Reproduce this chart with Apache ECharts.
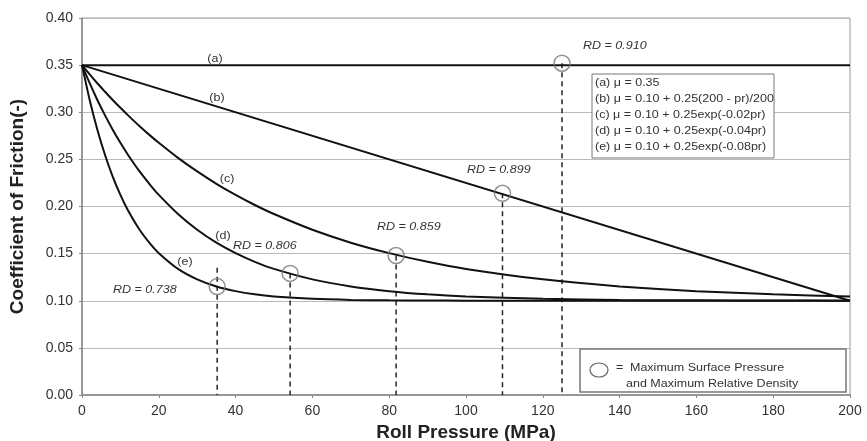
<!DOCTYPE html>
<html><head><meta charset="utf-8">
<script src="https://cdn.jsdelivr.net/npm/echarts@6/dist/echarts.min.js"></script>
<style>html,body{margin:0;padding:0;background:#fff}#c{width:867px;height:441px}</style>
</head><body><div id="c"></div>
<script>
// ---- data ----
var xA = [0, 200];
var muA = [0.35, 0.35];
var xB = [0, 200];
var muB = [0.35, 0.10];
var xCurve = [0,2,4,6,8,10,12,15,18,20,25,30,35,40,45,50,60,70,80,90,100,120,140,160,180,200];
var muC = [0.350,0.3402,0.3308,0.3217,0.3130,0.3047,0.2967,0.2852,0.2744,0.2676,0.2516,0.2372,0.2241,0.2123,0.2016,0.1920,0.1753,0.1616,0.1505,0.1413,0.1338,0.1227,0.1152,0.1102,0.1068,0.1046];
var muD = [0.350,0.3308,0.3130,0.2967,0.2815,0.2676,0.2547,0.2372,0.2217,0.2123,0.1920,0.1753,0.1616,0.1505,0.1413,0.1338,0.1227,0.1152,0.1102,0.1068,0.1046,0.1021,0.1009,0.1004,0.1002,0.1001];
var muE = [0.350,0.3130,0.2815,0.2547,0.2318,0.2123,0.1957,0.1753,0.1592,0.1505,0.1338,0.1227,0.1152,0.1102,0.1068,0.1046,0.1021,0.1009,0.1004,0.1002,0.1001,0.1000,0.1000,0.1000,0.1000,0.1000];
// maximum surface pressure points (a..e)
var maxP = [125, 109.5, 81.8, 54.2, 35.2];
var maxMu = [0.352, 0.214, 0.148, 0.129, 0.115];
var rdLabels = ['RD = 0.910', 'RD = 0.899', 'RD = 0.859', 'RD = 0.806', 'RD = 0.738'];
var curveLabels = ['(a)', '(b)', '(c)', '(d)', '(e)'];
var formulas = ['(a) \u03bc = 0.35', '(b) \u03bc = 0.10 + 0.25(200 - pr)/200', '(c) \u03bc = 0.10 + 0.25exp(-0.02pr)', '(d) \u03bc = 0.10 + 0.25exp(-0.04pr)', '(e) \u03bc = 0.10 + 0.25exp(-0.08pr)'];
var xTicks = [0,20,40,60,80,100,120,140,160,180,200];
var yTicks = [0,0.05,0.10,0.15,0.20,0.25,0.30,0.35,0.40];

function zip(xs, ys){ return xs.map(function(x,i){ return [x, ys[i]]; }); }

var FONT = 'Liberation Sans';
var SX = 1.25; // horizontal stretch of annotation text
var series = [];
function lineSeries(xs, ys, w){
  return {type:'line', data: zip(xs, ys), symbol:'none', smooth:0.2, z:3,
    lineStyle:{color:'#111', width:w}};
}
series.push(lineSeries(xA, muA, 2));
series.push(lineSeries(xB, muB, 2));
series.push(lineSeries(xCurve, muC, 2));
series.push(lineSeries(xCurve, muD, 2));
series.push(lineSeries(xCurve, muE, 2));
// dashed drop lines
maxP.forEach(function(p, i){
  var top = (i === 4) ? 0.135 : maxMu[i];
  series.push({type:'line', data:[[p, top],[p, 0]], symbol:'none', z:2,
    lineStyle:{color:'#222', width:1.5, type:[5,4]}});
});
series.push({type:'scatter', data: zip(maxP, maxMu), symbol:'circle', symbolSize:16, z:5,
  itemStyle:{color:'rgba(255,255,255,0)', borderColor:'#777', borderWidth:1.5}});

var graphics = [];
function txt(x, y, t, italic, align, z){
  return {type:'text', x:x, y:y, scaleX:SX, z:z||6,
    style:{text:t, fontFamily:FONT, fontSize:10, fontStyle: italic ? 'italic' : 'normal',
      fill:'#333', align:align||'left', verticalAlign:'middle'}};
}
// curve labels
var cl = [[215,59],[217,98],[227,179],[223,236],[185,262]];
curveLabels.forEach(function(t,i){ graphics.push(txt(cl[i][0], cl[i][1], t, false, 'center')); });
var rl = [[583,46],[467,170],[377,227],[233,246],[113,290]];
rdLabels.forEach(function(t,i){ graphics.push(txt(rl[i][0], rl[i][1], t, true, 'left')); });
// formula box
graphics.push({type:'rect', shape:{x:592, y:74, width:182, height:84}, style:{fill:'#fff', stroke:'#777', lineWidth:1}, z:10});
formulas.forEach(function(t,i){ graphics.push(txt(595, 83+i*16, t, false, 'left', 11)); });
// marker legend box
graphics.push({type:'rect', shape:{x:580, y:349, width:266, height:43}, style:{fill:'#fff', stroke:'#777', lineWidth:1.5}, z:10});
graphics.push({type:'ellipse', shape:{cx:599, cy:370, rx:9, ry:7}, style:{fill:'#fff', stroke:'#666', lineWidth:1.2}, z:11});
graphics.push(txt(616, 368, '=', false, 'left', 11));
graphics.push(txt(630, 368, 'Maximum Surface Pressure', false, 'left', 11));
graphics.push(txt(626, 384, 'and Maximum Relative Density', false, 'left', 11));

var chart = echarts.init(document.getElementById('c'));
chart.setOption({
  animation:false,
  backgroundColor:'#fff',
  grid:{left:82, right:17, top:18, bottom:46, show:true, borderColor:'#999', borderWidth:1, outerBoundsMode:'none', containLabel:false},
  xAxis:{type:'value', min:xTicks[0], max:xTicks[xTicks.length-1], interval:20,
    name:'Roll Pressure (MPa)', nameLocation:'middle', nameGap:25,
    nameTextStyle:{fontFamily:FONT, fontWeight:'bold', fontSize:19, color:'#222'},
    axisLine:{lineStyle:{color:'#888', width:1.5}},
    axisTick:{show:true, length:3, lineStyle:{color:'#888'}},
    axisLabel:{fontFamily:FONT, fontSize:14, color:'#333', margin:9},
    splitLine:{show:false}},
  yAxis:{type:'value', min:yTicks[0], max:yTicks[yTicks.length-1], interval:0.05,
    name:'Coefficient of Friction(-)', nameLocation:'middle', nameGap:55,
    nameTextStyle:{fontFamily:FONT, fontWeight:'bold', fontSize:19, color:'#222'},
    axisLine:{show:true, lineStyle:{color:'#888', width:1.5}},
    axisTick:{show:true, length:3, lineStyle:{color:'#888'}},
    axisLabel:{fontFamily:FONT, fontSize:14, color:'#333', margin:9, formatter:function(v){return v.toFixed(2);}},
    splitLine:{show:true, lineStyle:{color:'#bbb', width:1}}},
  series: series,
  graphic: graphics
});
</script></body></html>
